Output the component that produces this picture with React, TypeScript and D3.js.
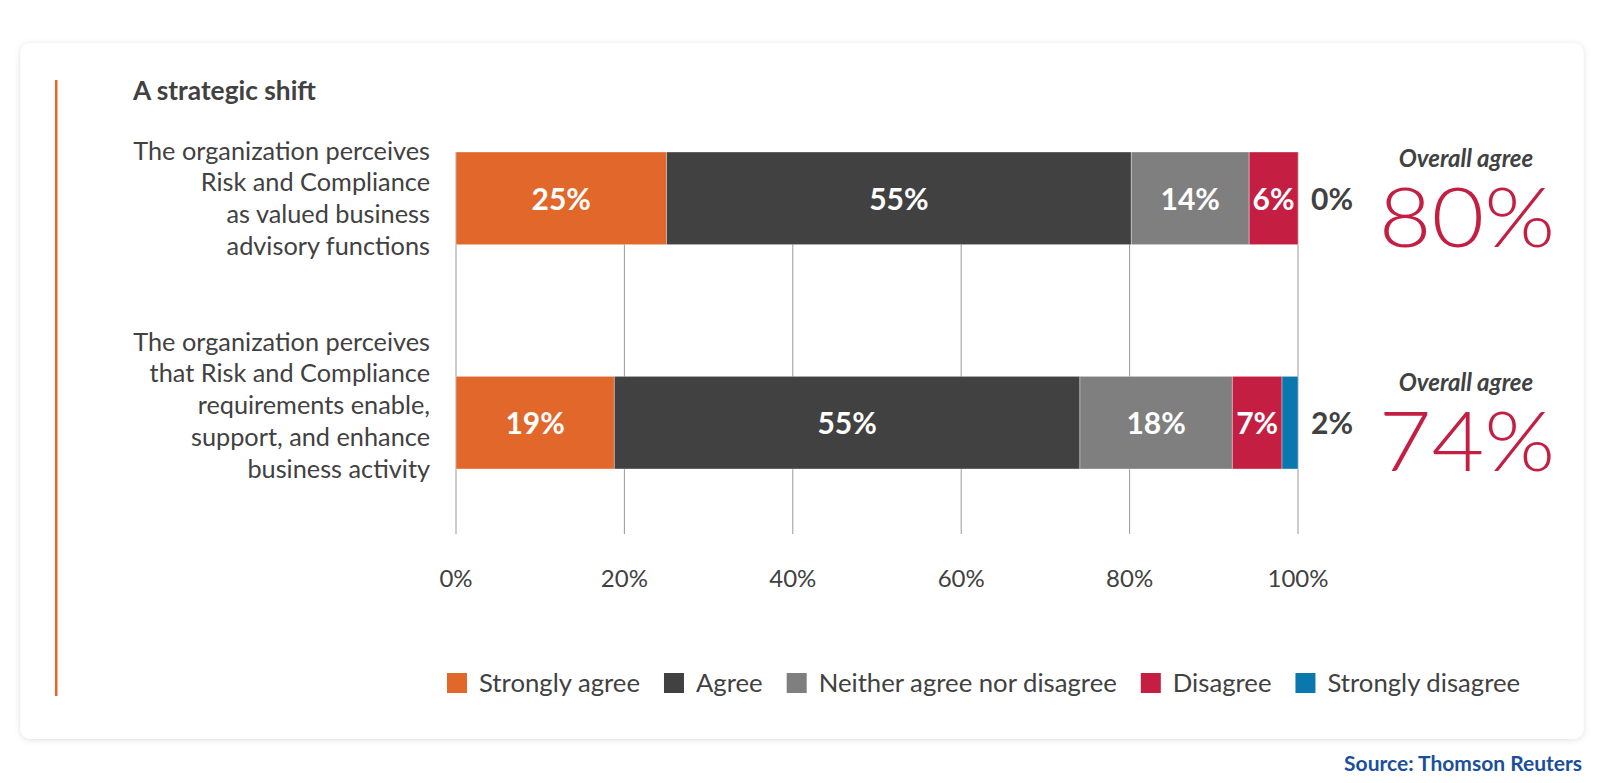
import React, { useEffect, useRef } from "react";
import * as d3 from "d3";

const categories = ["q1", "q2"];
const categoryLines = [
  ["The organization perceives", "Risk and Compliance", "as valued business", "advisory functions"],
  ["The organization perceives", "that Risk and Compliance", "requirements enable,", "support, and enhance", "business activity"],
];
const seriesNames = ["Strongly agree", "Agree", "Neither agree nor disagree", "Disagree", "Strongly disagree"];
const seriesColors = ["#E2672B", "#414141", "#7F7F7F", "#C41E43", "#0A78AD"];
// bar segment widths (percent)
const stronglyAgree = [25, 18.8];
const agree = [55.2, 55.3];
const neither = [14, 18.1];
const disagree = [5.8, 5.9];
const stronglyDisagree = [0, 1.9];
// printed labels
const labelStronglyAgree = [25, 19];
const labelAgree = [55, 55];
const labelNeither = [14, 18];
const labelDisagree = [6, 7];
const labelStronglyDisagree = [0, 2];
const tickValues = [0, 20, 40, 60, 80, 100];

const FONT = "Lato, 'Noto Sans', sans-serif";
const TEXT = "#414141";

export default function App() {
  const ref = useRef<SVGSVGElement>(null);

  useEffect(() => {
    const svg = d3.select(ref.current);
    svg.selectAll("*").remove();

    const defs = svg.append("defs");
    const f = defs.append("filter").attr("id", "sh").attr("x", "-5%").attr("y", "-5%").attr("width", "110%").attr("height", "110%");
    f.append("feDropShadow").attr("dx", 0).attr("dy", 1).attr("stdDeviation", 3).attr("flood-color", "#000").attr("flood-opacity", 0.13);

    svg.append("rect").attr("x", 20.5).attr("y", 43).attr("width", 1563).attr("height", 696).attr("rx", 10)
      .attr("fill", "#fff").attr("filter", "url(#sh)");

    svg.append("rect").attr("x", 55).attr("y", 80).attr("width", 2.5).attr("height", 616).attr("fill", "#E2672B");

    svg.append("text").attr("x", 133).attr("y", 100).text("A strategic shift")
      .attr("font-family", FONT).attr("font-weight", 700).attr("font-size", 26.3).attr("fill", TEXT);

    const x = d3.scaleLinear().domain([0, 100]).range([456, 1298]);
    const y = d3.scaleBand<string>().domain(categories).range([152, 469]).paddingInner(0.587).paddingOuter(0);

    // gridlines
    const gridBottom = 534;
    svg.append("g").selectAll("line").data(tickValues).join("line")
      .attr("x1", (d) => x(d)).attr("x2", (d) => x(d))
      .attr("y1", y(categories[0])!).attr("y2", gridBottom)
      .attr("stroke", "#999").attr("stroke-width", 1);

    svg.append("g").selectAll("text").data(tickValues).join("text")
      .attr("x", (d) => x(d)).attr("y", 587).attr("text-anchor", "middle")
      .attr("font-family", FONT).attr("font-size", 24).attr("fill", TEXT)
      .text((d) => d + "%");

    const valueRows = [stronglyAgree, agree, neither, disagree, stronglyDisagree];
    const labelRows = [labelStronglyAgree, labelAgree, labelNeither, labelDisagree, labelStronglyDisagree];
    const table = categories.map((c, i) => {
      const o: any = { cat: c };
      seriesNames.forEach((s, j) => (o[s] = valueRows[j][i]));
      return o;
    });
    const stacked = d3.stack<any>().keys(seriesNames)(table);

    stacked.forEach((layer, j) => {
      const g = svg.append("g");
      g.selectAll("rect").data(layer).join("rect")
        .attr("x", (d) => x(d[0])).attr("width", (d) => x(d[1]) - x(d[0]))
        .attr("y", (d) => y(d.data.cat)!).attr("height", y.bandwidth())
        .attr("fill", seriesColors[j]).attr("stroke", "rgba(255,255,255,0.45)").attr("stroke-width", 0.8);
      const last = j === seriesNames.length - 1;
      g.selectAll("text").data(layer).join("text")
        .attr("x", (d) => (last ? x(100) + 13 : (x(d[0]) + x(d[1])) / 2))
        .attr("y", (d) => y(d.data.cat)! + y.bandwidth() / 2 + 11.5)
        .attr("text-anchor", last ? "start" : "middle")
        .attr("font-family", FONT).attr("font-weight", 700).attr("font-size", 30)
        .attr("fill", last ? TEXT : "#fff")
        .text((d, i) => labelRows[j][i] + "%");
    });

    // category labels
    const lh = 31.8;
    categories.forEach((c, i) => {
      const lines = categoryLines[i];
      const center = y(c)! + y.bandwidth() / 2 - (lines.length - 4) * 17.5;
      const first = center - ((lines.length - 1) / 2) * lh;
      const t = svg.append("text").attr("font-family", FONT).attr("font-size", 25.3).attr("fill", TEXT).attr("text-anchor", "end");
      lines.forEach((l, k) => t.append("tspan").attr("x", 430).attr("y", first + k * lh + 9).text(l));
    });

    // overall agree
    categories.forEach((c, i) => {
      const top = y(c)!;
      const overall = labelStronglyAgree[i] + labelAgree[i];
      svg.append("text").attr("x", 1466).attr("y", top + 15).attr("text-anchor", "middle")
        .attr("font-family", FONT).attr("font-weight", 700).attr("font-style", "italic").attr("font-size", 24).attr("fill", TEXT)
        .text("Overall agree");
      svg.append("text").attr("transform", `translate(1467,${top + 95}) scale(1.11,1)`).attr("text-anchor", "middle")
        .attr("font-family", FONT).attr("font-weight", 300).attr("font-size", 82).attr("fill", "#C41E43")
        .text(overall + "%");
    });

    // legend
    const lg = svg.append("g");
    let lx = 447;
    seriesNames.forEach((s, j) => {
      lg.append("rect").attr("x", lx).attr("y", 673).attr("width", 20).attr("height", 20).attr("fill", seriesColors[j]);
      const t = lg.append("text").attr("x", lx + 32).attr("y", 692)
        .attr("font-family", FONT).attr("font-size", 25.7).attr("fill", TEXT).text(s);
      const w = (t.node() as SVGTextElement).getComputedTextLength();
      lx += 32 + w + 24;
    });

    svg.append("text").attr("x", 1582).attr("y", 771).attr("text-anchor", "end")
      .attr("font-family", FONT).attr("font-weight", 700).attr("font-size", 21).attr("fill", "#1B4F9C")
      .text("Source: Thomson Reuters");
  }, []);

  return (
    <svg ref={ref} width={1604} height={783}
      style={{ position: "absolute", left: 0, top: 0, background: "#fff" }} />
  );
}
